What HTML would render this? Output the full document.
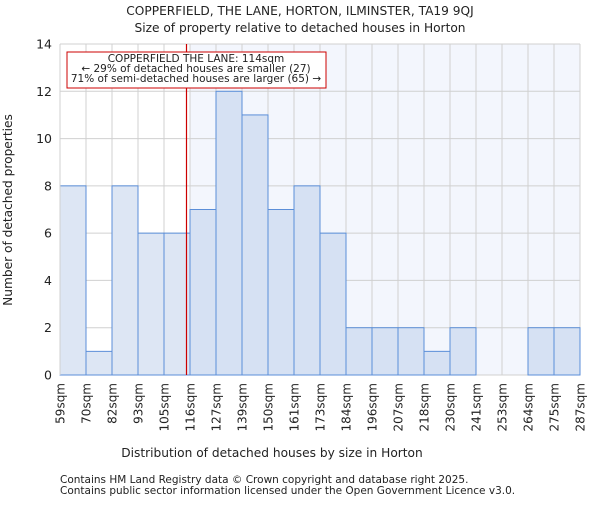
<!DOCTYPE html>
<html><head><meta charset="utf-8"><style>
body{margin:0;background:#fff;}
text{font-family:"DejaVu Sans","Liberation Sans",sans-serif;fill:#222;}
</style></head><body>
<svg width="600" height="500">
<rect x="190" y="44" width="390" height="331" fill="#f3f6fd"/>
<g id="grid"></g>
<g id="bars"></g>
<line x1="186.5" x2="186.5" y1="44" y2="375" stroke="#cc0000" stroke-width="1.2"/>
<rect x="67" y="52" width="259" height="36" fill="#fff" stroke="#cc0000" stroke-width="1"/>
<text x="196" y="62" font-size="10.5" text-anchor="middle">COPPERFIELD THE LANE: 114sqm</text>
<text x="196" y="72" font-size="10.5" text-anchor="middle">← 29% of detached houses are smaller (27)</text>
<text x="196" y="82" font-size="10.5" text-anchor="middle">71% of semi-detached houses are larger (65) →</text>
<g id="axes"></g>
<text x="300" y="15" font-size="12.2" text-anchor="middle">COPPERFIELD, THE LANE, HORTON, ILMINSTER, TA19 9QJ</text>
<text x="300" y="32" font-size="12.2" text-anchor="middle">Size of property relative to detached houses in Horton</text>
<text x="272" y="457" font-size="12.2" text-anchor="middle">Distribution of detached houses by size in Horton</text>
<text transform="translate(12,210) rotate(-90)" font-size="12.2" text-anchor="middle">Number of detached properties</text>
<text x="60" y="483" font-size="10.5" fill="#444">Contains HM Land Registry data © Crown copyright and database right 2025.</text>
<text x="60" y="494" font-size="10.5" fill="#444">Contains public sector information licensed under the Open Government Licence v3.0.</text>
</svg>
<script>
const binLabels=["59sqm","70sqm","82sqm","93sqm","105sqm","116sqm","127sqm","139sqm","150sqm","161sqm","173sqm","184sqm","196sqm","207sqm","218sqm","230sqm","241sqm","253sqm","264sqm","275sqm","287sqm"];
const counts=[8,1,8,6,6,7,12,11,7,8,6,2,2,2,1,2,0,0,2,2];
const yTicks=[0,2,4,6,8,10,12,14];
const NS="http://www.w3.org/2000/svg";
const x0=60,x1=580,y0=375,y1=44,ymax=14;
const bw=(x1-x0)/counts.length;
const X=i=>x0+i*bw, Y=v=>y0-(v/ymax)*(y0-y1);
function mk(t,a,p){const e=document.createElementNS(NS,t);for(const k in a)e.setAttribute(k,a[k]);p.appendChild(e);return e;}
const grid=document.getElementById('grid'),bars=document.getElementById('bars'),axes=document.getElementById('axes');
yTicks.forEach(v=>{
 const l=mk('line',{x1:x0,x2:x1,y1:Y(v),y2:Y(v),stroke:'#d0d0d0','stroke-width':1},grid);
 
 
 const t=mk('text',{x:x0-8,y:Y(v)+4.5,'font-size':12.5,'text-anchor':'end'},axes);
 t.textContent=v;
 
 
});
binLabels.forEach((s,i)=>{
 const l=mk('line',{x1:X(i),x2:X(i),y1:y1,y2:y0,stroke:'#d0d0d0','stroke-width':1},grid);
 
 
 const t=mk('text',{transform:`translate(${X(i)+4.5},${y0+8}) rotate(-90)`,'font-size':12,'text-anchor':'end'},axes);
 t.textContent=s;
 
 
});
counts.forEach((c,i)=>{
 if(c<=0)return;
 const r=mk('rect',{x:X(i),y:Y(c),width:bw,height:y0-Y(c),fill:i<5?'#dde6f4':'#d6e1f3',stroke:'#5b8ed8','stroke-width':1},bars);
 
 
});
const ax=mk('line',{x1:x0,x2:x0,y1:y1,y2:y0,stroke:'#d0d0d0'},axes);


</script>
</body></html>
